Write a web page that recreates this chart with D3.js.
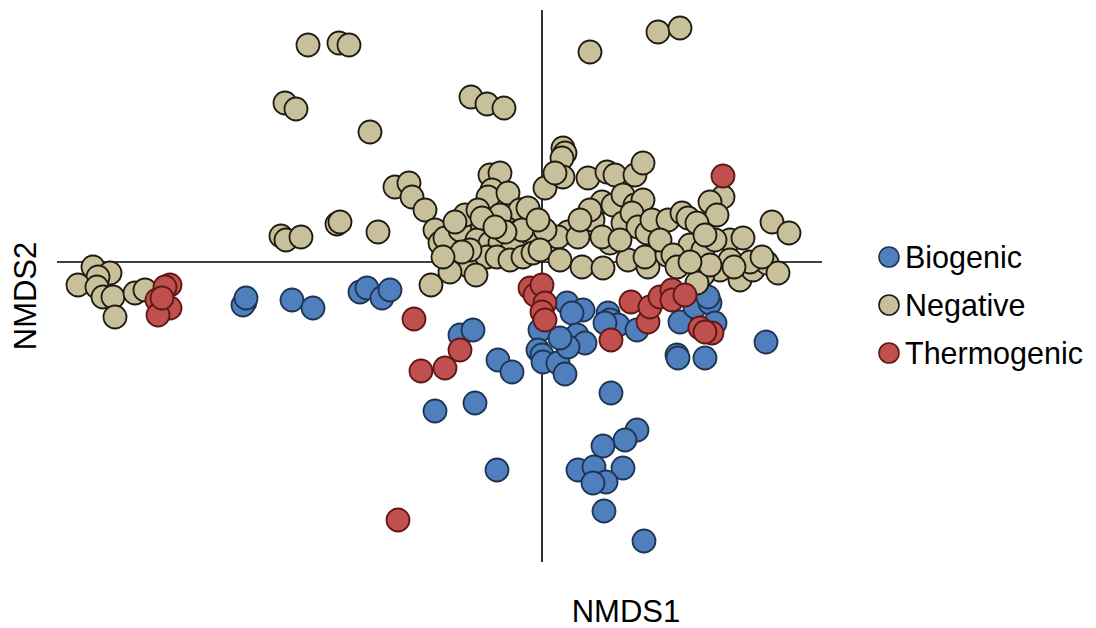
<!DOCTYPE html>
<html>
<head>
<meta charset="utf-8">
<script src="https://cdn.jsdelivr.net/npm/d3@7"></script>
<style>
  body { margin: 0; background: #fff; }
  text { font-family: "Liberation Sans", Arial, sans-serif; }
</style>
</head>
<body>
<svg id="chart" width="1096" height="628"></svg>
<script>
'use strict';

var groups = ['Biogenic', 'Negative', 'Thermogenic'];
var fills = ['#4f7fbc', '#c8c09a', '#c0504d'];
var strokes = ['#1d3553', '#1e1c12', '#5e1715'];

// NMDS1, NMDS2 per site
var biogenic = [
	[-0.594, -0.080], [-0.598, -0.086], [-0.592, -0.072], [-0.500, -0.076], [-0.458, -0.092],
	[-0.364, -0.060], [-0.350, -0.052], [-0.320, -0.072], [-0.304, -0.056],
	[-0.164, -0.146], [-0.138, -0.136], [-0.088, -0.196], [-0.060, -0.220],
	[-0.004, -0.136], [-0.008, -0.176], [0.000, -0.186], [0.002, -0.200], [0.032, -0.202], [0.046, -0.224],
	[-0.214, -0.298], [-0.134, -0.282], [-0.090, -0.416],
	[0.138, -0.262], [0.190, -0.336], [0.166, -0.356], [0.122, -0.368], [0.072, -0.416], [0.104, -0.410],
	[0.162, -0.412], [0.128, -0.440], [0.102, -0.442], [0.124, -0.498], [0.204, -0.558],
	[0.050, -0.082], [0.082, -0.096], [0.060, -0.102], [0.070, -0.146], [0.086, -0.162], [0.052, -0.170],
	[0.036, -0.152], [0.132, -0.102], [0.136, -0.116], [0.152, -0.126], [0.190, -0.136], [0.126, -0.122],
	[0.296, -0.066], [0.276, -0.120], [0.306, -0.090], [0.336, -0.082], [0.332, -0.070], [0.346, -0.122],
	[0.270, -0.186], [0.272, -0.192], [0.326, -0.192], [0.448, -0.160]
];

var negative = [
	[-0.468, 0.434], [-0.406, 0.438], [-0.386, 0.434], [-0.514, 0.318], [-0.492, 0.306], [-0.344, 0.260],
	[-0.142, 0.330], [-0.110, 0.316], [-0.076, 0.308], [0.096, 0.420], [0.232, 0.460], [0.276, 0.468],
	[-0.522, 0.052], [-0.512, 0.044], [-0.482, 0.050], [-0.410, 0.076], [-0.404, 0.080], [-0.328, 0.060],
	[-0.294, 0.150], [-0.266, 0.158], [-0.260, 0.130], [-0.234, 0.104], [-0.222, -0.046],
	[-0.898, -0.010], [-0.864, -0.022], [-0.888, -0.030], [-0.928, -0.046], [-0.890, -0.050],
	[-0.878, -0.070], [-0.858, -0.070], [-0.814, -0.062], [-0.794, -0.056], [-0.854, -0.110],
	[-0.214, 0.064], [-0.204, 0.038], [-0.194, 0.048], [-0.104, 0.174], [-0.084, 0.178], [-0.100, 0.144],
	[-0.108, 0.130], [-0.068, 0.138], [-0.114, 0.064], [-0.064, 0.080], [-0.044, 0.104], [-0.028, 0.108],
	[-0.054, 0.058], [-0.138, 0.078], [-0.150, 0.044], [-0.164, 0.064], [-0.130, 0.044], [-0.104, 0.038],
	[-0.084, 0.038], [-0.058, 0.030], [-0.018, 0.058], [-0.184, -0.002], [-0.144, -0.010], [-0.110, 0.010],
	[-0.090, 0.010], [-0.064, 0.004], [-0.038, 0.010], [-0.018, 0.018], [0.006, 0.148], [-0.154, 0.094],
	[-0.174, 0.080], [-0.084, 0.094], [-0.128, 0.104], [-0.144, 0.024], [-0.184, -0.020], [-0.132, -0.026],
	[-0.040, 0.064], [-0.074, 0.060], [-0.120, 0.088], [-0.094, 0.070], [-0.160, 0.020], [-0.198, 0.010],
	[0.042, 0.228], [0.046, 0.218], [0.040, 0.208], [0.042, 0.170], [0.026, 0.178], [0.092, 0.168],
	[0.130, 0.180], [0.146, 0.174], [0.186, 0.174], [0.202, 0.198], [0.120, 0.120], [0.102, 0.084],
	[0.096, 0.104], [0.142, 0.114], [0.162, 0.134], [0.186, 0.114], [0.202, 0.124], [0.162, 0.078],
	[0.180, 0.098], [0.192, 0.070], [0.210, 0.058], [0.220, 0.084], [0.136, 0.038], [0.120, 0.050],
	[0.052, 0.060], [0.032, 0.050], [0.006, 0.064], [-0.008, 0.084], [-0.004, 0.024], [0.080, -0.010],
	[0.122, -0.012], [0.172, 0.004], [0.212, -0.010], [0.206, 0.010], [0.250, 0.014], [0.252, 0.084],
	[0.280, 0.098], [0.072, 0.050], [0.156, 0.044], [0.076, 0.084], [0.236, 0.044], [0.036, 0.004],
	[0.362, 0.130], [0.336, 0.120], [0.350, 0.094], [0.292, 0.088], [0.310, 0.078], [0.460, 0.080],
	[0.494, 0.058], [0.296, 0.034], [0.322, 0.024], [0.376, 0.044], [0.402, 0.048], [0.262, 0.014],
	[0.270, -0.010], [0.356, -0.016], [0.396, -0.036], [0.422, -0.016], [0.450, -0.002], [0.472, -0.022],
	[0.322, -0.026], [0.310, -0.042], [0.376, 0.004], [0.416, 0.000], [0.336, -0.006], [0.296, 0.000],
	[0.346, 0.044], [0.326, 0.054], [0.384, -0.010], [0.440, 0.010]
];

var thermogenic = [
	[0.362, 0.172], [-0.024, -0.052], [-0.014, -0.066], [0.000, -0.046], [0.006, -0.082], [0.000, -0.100],
	[0.006, -0.116], [0.138, -0.156], [0.178, -0.080], [0.212, -0.120], [0.216, -0.090], [0.236, -0.070],
	[0.260, -0.056], [0.260, -0.076], [0.286, -0.066], [0.316, -0.132], [0.340, -0.142], [0.326, -0.140],
	[-0.256, -0.114], [-0.164, -0.176], [-0.194, -0.212], [-0.242, -0.218], [-0.288, -0.516],
	[-0.744, -0.046], [-0.754, -0.050], [-0.770, -0.076], [-0.744, -0.092], [-0.768, -0.106], [-0.760, -0.072]
];

var seriesData = [biogenic, negative, thermogenic];

var svg = d3.select('#chart');

var x = d3.scaleLinear().domain([-0.97, 0.56]).range([57, 822]);
var y = d3.scaleLinear().domain([-0.6, 0.504]).range([562, 10]);
var fill = d3.scaleOrdinal().domain(groups).range(fills);
var stroke = d3.scaleOrdinal().domain(groups).range(strokes);

// zero lines
svg.append('line')
	.attr('x1', x(0)).attr('x2', x(0))
	.attr('y1', y.range()[0]).attr('y2', y.range()[1])
	.attr('stroke', '#000').attr('stroke-width', 1.6);
svg.append('line')
	.attr('x1', x.range()[0]).attr('x2', x.range()[1])
	.attr('y1', y(0)).attr('y2', y(0))
	.attr('stroke', '#000').attr('stroke-width', 1.6);

var points = [];
groups.forEach(function(g, i) {
	seriesData[i].forEach(function(d) {
		points.push({group: g, nmds1: d[0], nmds2: d[1]});
	});
});

svg.append('g').selectAll('circle')
	.data(points)
	.enter()
	.append('circle')
	.attr('cx', function(d) { return x(d.nmds1); })
	.attr('cy', function(d) { return y(d.nmds2); })
	.attr('r', 11.5)
	.attr('fill', function(d) { return fill(d.group); })
	.attr('stroke', function(d) { return stroke(d.group); })
	.attr('stroke-width', 1.8);

// axis titles
svg.append('text')
	.attr('x', 626).attr('y', 622)
	.attr('text-anchor', 'middle')
	.attr('font-size', 31)
	.text('NMDS1');
svg.append('text')
	.attr('transform', 'translate(36,296) rotate(-90)')
	.attr('text-anchor', 'middle')
	.attr('font-size', 31)
	.text('NMDS2');

// legend
var legend = svg.append('g').selectAll('g')
	.data(groups)
	.enter()
	.append('g')
	.attr('transform', function(d, i) { return 'translate(889,' + (257 + i * 48) + ')'; });
legend.append('circle')
	.attr('r', 10)
	.attr('fill', function(d) { return fill(d); })
	.attr('stroke', function(d) { return stroke(d); })
	.attr('stroke-width', 1.6);
legend.append('text')
	.attr('x', 16)
	.attr('y', 10.5)
	.attr('font-size', 30.5)
	.text(function(d) { return d; });
</script>
</body>
</html>
